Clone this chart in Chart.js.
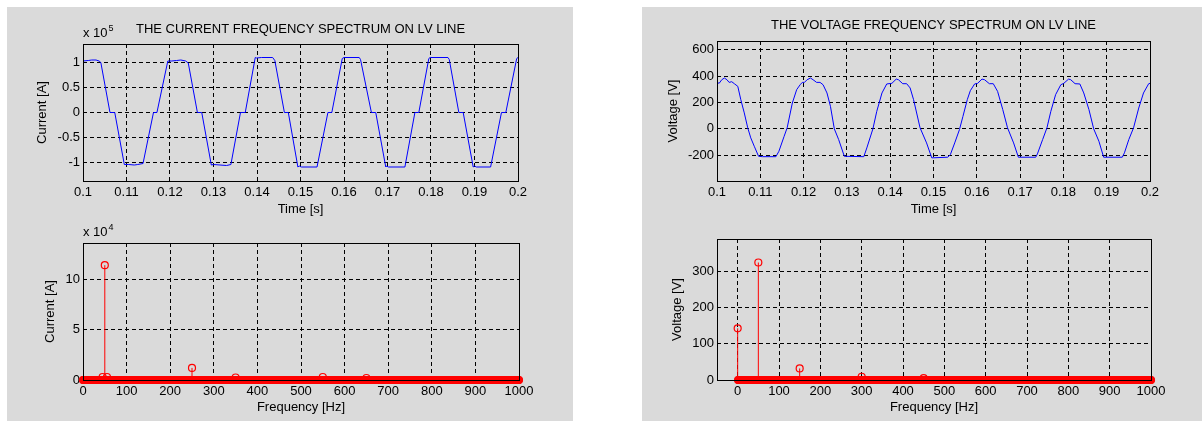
<!DOCTYPE html>
<html>
<head>
<meta charset="utf-8">
<script src="https://cdn.jsdelivr.net/npm/chart.js@4/dist/chart.umd.min.js"></script>
<style>
  html, body { margin: 0; padding: 0; width: 1202px; height: 421px; overflow: hidden; background: #fff; }
  .panel { position: absolute; background: #dadada; }
  canvas { position: absolute; }
</style>
</head>
<body>
<div class="panel" style="left:7px;top:7px;width:566px;height:414px"></div>
<div class="panel" style="left:642px;top:7px;width:560px;height:414px"></div>
<canvas id="currentTime" width="587" height="215" style="left:7px;top:7px"></canvas>
<canvas id="currentSpec" width="588" height="199" style="left:7px;top:222px"></canvas>
<canvas id="voltageTime" width="583" height="215" style="left:642px;top:7px"></canvas>
<canvas id="voltageSpec" width="584" height="199" style="left:642px;top:222px"></canvas>
<script>
// tick labels
const timeTicks = [0.1, 0.11, 0.12, 0.13, 0.14, 0.15, 0.16, 0.17, 0.18, 0.19, 0.2];
const freqTicks = [0, 100, 200, 300, 400, 500, 600, 700, 800, 900, 1000];
const currentTicks = [-1, -0.5, 0, 0.5, 1];        // x 10^5
const currentSpecTicks = [0, 5, 10];                // x 10^4
const voltageTicks = [-200, 0, 200, 400, 600];
const voltageSpecTicks = [0, 100, 200, 300];

// current waveform, values in units of 10^5 A
const currentTime = [0.1000, 0.1012, 0.1020, 0.1030, 0.1037, 0.1041, 0.1062, 0.1073, 0.1095, 0.1105,
  0.1118, 0.1126, 0.1138, 0.1162, 0.1170, 0.1195, 0.1204, 0.1215, 0.1225, 0.1236,
  0.1242, 0.1263, 0.1273, 0.1295, 0.1300, 0.1315, 0.1330, 0.1340, 0.1362, 0.1373,
  0.1396, 0.1399, 0.1410, 0.1436, 0.1441, 0.1463, 0.1472, 0.1494, 0.1497, 0.1502,
  0.1538, 0.1563, 0.1572, 0.1596, 0.1600, 0.1635, 0.1638, 0.1663, 0.1673, 0.1696,
  0.1698, 0.1702, 0.1740, 0.1763, 0.1772, 0.1795, 0.1798, 0.1839, 0.1842, 0.1864,
  0.1874, 0.1897, 0.1900, 0.1904, 0.1937, 0.1962, 0.1972, 0.1997, 0.2000];
const currentValue = [1.03, 1.04, 1.05, 1.05, 1.03, 1.00, 0, 0, -1.04, -1.04,
  -1.05, -1.04, -1.02, 0, 0, 1.03, 1.03, 1.04, 1.05, 1.03,
  0.99, 0, 0, -1.05, -1.04, -1.05, -1.06, -1.04, 0, 0,
  1.10, 1.09, 1.10, 1.10, 1.04, 0, 0, -1.09, -1.07, -1.09,
  -1.09, 0, 0, 1.08, 1.10, 1.10, 1.06, 0, 0, -1.09,
  -1.07, -1.09, -1.09, 0, 0, 1.08, 1.10, 1.10, 1.06, 0,
  0, -1.09, -1.07, -1.09, -1.09, 0, 0, 1.08, 1.10];

// voltage waveform, V
const voltageTime = [0.1000, 0.1005, 0.1011, 0.1017, 0.1023, 0.1028, 0.1034, 0.1040, 0.1048, 0.1055,
  0.1063, 0.1071, 0.1078, 0.1086, 0.1096, 0.1105, 0.1136, 0.1143, 0.1155, 0.1162,
  0.1174, 0.1184, 0.1192, 0.1197, 0.1202, 0.1208, 0.1216, 0.1224, 0.1230, 0.1238,
  0.1245, 0.1254, 0.1262, 0.1271, 0.1281, 0.1294, 0.1339, 0.1346, 0.1360, 0.1369,
  0.1381, 0.1392, 0.1404, 0.1414, 0.1419, 0.1429, 0.1438, 0.1446, 0.1454, 0.1469,
  0.1484, 0.1496, 0.1533, 0.1539, 0.1549, 0.1560, 0.1568, 0.1578, 0.1585, 0.1595,
  0.1602, 0.1612, 0.1618, 0.1629, 0.1638, 0.1648, 0.1660, 0.1671, 0.1685, 0.1696,
  0.1736, 0.1740, 0.1752, 0.1762, 0.1771, 0.1782, 0.1794, 0.1801, 0.1812, 0.1817,
  0.1827, 0.1838, 0.1847, 0.1859, 0.1870, 0.1882, 0.1893, 0.1936, 0.1941, 0.1951,
  0.1962, 0.1974, 0.1985, 0.1997, 0.2000];
const voltageValue = [352, 345, 372, 385, 372, 352, 357, 342, 322, 221,
  121, 8, -68, -131, -207, -210, -210, -169, -56, 8,
  196, 297, 334, 352, 352, 372, 385, 367, 352, 352,
  334, 272, 171, 0, -81, -207, -210, -144, 0, 133,
  272, 340, 345, 377, 372, 342, 342, 310, 221, 8,
  -106, -219, -214, -194, -106, -5, 95, 221, 289, 340,
  345, 377, 372, 342, 342, 284, 146, 8, -106, -214,
  -214, -189, -81, 8, 133, 259, 334, 345, 377, 372,
  342, 340, 272, 146, 0, -93, -214, -214, -181, -81,
  8, 158, 272, 342, 345];

// spectra: nonzero lines only, every other bin reads as 0
const currentHarmHz = [45, 50, 55, 250, 350, 550, 650];
const currentHarmAmp = [0.3, 11.4, 0.3, 1.2, 0.25, 0.3, 0.2];   // x 10^4 A
const voltageHarmHz = [0, 50, 150, 300, 450];
const voltageHarmAmp = [143, 325, 32, 9, 5];                    // V

const FONT = "'Liberation Sans', Arial, Helvetica, sans-serif";
Chart.defaults.font.family = FONT;
Chart.defaults.font.size = 13;
Chart.defaults.color = '#000';

const framePlugin = {
  id: 'frame',
  afterDatasetsDraw(chart, args, opts) {
    const { ctx, chartArea: a } = chart;
    ctx.save();
    ctx.strokeStyle = '#000';
    ctx.lineWidth = 1;
    ctx.strokeRect(Math.round(a.left) + 0.5, Math.round(a.top) + 0.5,
      Math.round(a.right - a.left), Math.round(a.bottom - a.top));
    if (opts.exponent) {
      ctx.fillStyle = '#000';
      ctx.font = '13px ' + FONT;
      ctx.fillText('x 10', a.left, a.top - 7);
      const w = ctx.measureText('x 10').width;
      ctx.font = '9px ' + FONT;
      ctx.fillText(opts.exponent, a.left + w + 1, a.top - 13);
    }
    ctx.restore();
  }
};

function axis(min, max, ticks, title, size, titlePad, horizontal) {
  return {
    type: 'linear',
    min, max,
    afterBuildTicks: s => { s.ticks = ticks.map(v => ({ value: v })); },
    afterFit: s => { if (horizontal) s.height = size; else s.width = size; },
    grid: { color: '#000', lineWidth: 1, drawTicks: false },
    border: { display: false, dash: [4, 3] },
    ticks: { padding: horizontal ? 4 : 3, autoSkip: false, maxRotation: 0, callback: v => String(v) },
    title: {
      display: true, text: title,
      padding: horizontal ? { top: 0, bottom: titlePad } : { top: titlePad, bottom: 0 }
    }
  };
}

function pairs(xs, ys) {
  return xs.map((x, i) => ({ x, y: ys[i] }));
}

function spectrum(hz, amp) {
  const pts = [];
  for (let f = 0; f <= 1000; f++) {
    const k = hz.indexOf(f);
    pts.push({ x: f, y: k >= 0 ? amp[k] : 0 });
  }
  return pts;
}

function stems(hz, amp) {
  const pts = [];
  hz.forEach((f, i) => { pts.push({ x: f, y: 0 }, { x: f, y: amp[i] }, { x: f, y: null }); });
  return pts;
}

function baseOptions(extra) {
  return Object.assign({
    responsive: false,
    animation: false,
    devicePixelRatio: 1,
    events: []
  }, extra);
}

function timeChart(id, xs, ys, yMin, yMax, yTicks, yTitle, yTitlePad, yWidth, titleText, titlePad, exponent) {
  new Chart(document.getElementById(id), {
    type: 'line',
    data: {
      datasets: [{
        data: pairs(xs, ys),
        borderColor: 'rgb(0,0,255)', borderWidth: 1,
        pointRadius: 0, tension: 0
      }]
    },
    options: baseOptions({
      layout: { padding: { top: 0, left: 0, right: yWidth, bottom: 0 } },
      scales: {
        x: axis(0.1, 0.2, timeTicks, 'Time [s]', 41, 5.2, true),
        y: axis(yMin, yMax, yTicks, yTitle, yWidth, yTitlePad, false)
      },
      plugins: {
        legend: { display: false },
        tooltip: { enabled: false },
        title: {
          display: true, text: titleText, fullSize: false,
          font: { size: 13, weight: 'normal' }, color: '#000',
          padding: titlePad
        },
        frame: { exponent }
      }
    }),
    plugins: [framePlugin]
  });
}

function specChart(id, hz, amp, xMin, yMax, yTicks, yTitle, yTitlePad, topPad, yWidth, exponent) {
  new Chart(document.getElementById(id), {
    type: 'line',
    data: {
      datasets: [{
        data: stems(hz, amp),
        borderColor: 'rgb(255,0,0)', borderWidth: 1,
        pointRadius: 0, spanGaps: false, clip: false
      }, {
        data: spectrum(hz, amp),
        showLine: false,
        pointStyle: 'circle', pointRadius: 3.5, pointBorderWidth: 1.2,
        pointBorderColor: 'rgb(255,0,0)', pointBackgroundColor: 'rgba(0,0,0,0)',
        clip: false
      }]
    },
    options: baseOptions({
      layout: { padding: { top: topPad, left: 0, right: yWidth, bottom: 0 } },
      scales: {
        x: axis(xMin, 1000, freqTicks, 'Frequency [Hz]', 41, 5.5, true),
        y: axis(0, yMax, yTicks, yTitle, yWidth, yTitlePad, false)
      },
      plugins: {
        legend: { display: false },
        tooltip: { enabled: false },
        frame: { exponent }
      }
    }),
    plugins: [framePlugin]
  });
}

timeChart('currentTime', currentTime, currentValue, -1.37, 1.37, currentTicks,
  'Current [A]', 27.5, 76, 'THE CURRENT FREQUENCY SPECTRUM ON LV LINE', { top: 14.7, bottom: 6.7 }, '5');
timeChart('voltageTime', voltageTime, voltageValue, -394, 665, voltageTicks,
  'Voltage [V]', 23.5, 75, 'THE VOLTAGE FREQUENCY SPECTRUM ON LV LINE', { top: 10.7, bottom: 7.7 }, null);
specChart('currentSpec', currentHarmHz, currentHarmAmp, 0, 13.6, currentSpecTicks,
  'Current [A]', 35.5, 21, 76, '4');
specChart('voltageSpec', voltageHarmHz, voltageHarmAmp, -50, 390, voltageSpecTicks,
  'Voltage [V]', 27.2, 17, 75, null);
</script>
</body>
</html>
